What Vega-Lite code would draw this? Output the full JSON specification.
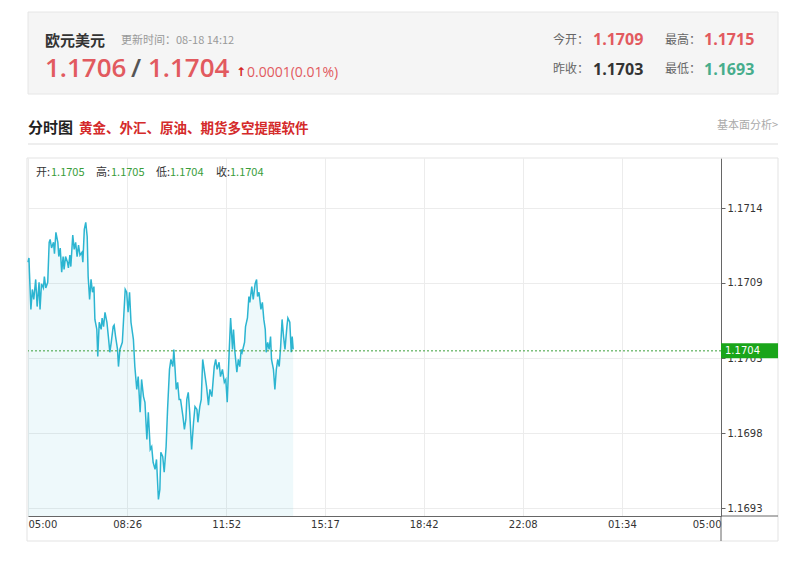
{
  "$schema": "https://vega.github.io/schema/vega-lite/v6.json",
  "width": 693,
  "height": 358,
  "autosize": {"type": "none"},
  "padding": {"left": 28, "top": 158, "right": 79, "bottom": 55},
  "background": "#ffffff",
  "config": {"view": {"stroke": null}, "font": "Noto Sans CJK SC"},
  "data": {
    "format": {"parse": {"t": "utc:'%H:%M'"}},
    "values": [
      {"t":"05:00","p":1.17102},{"t":"05:02","p":1.17105},{"t":"05:03","p":1.17095},{"t":"05:06","p":1.17069},{"t":"05:09","p":1.17083},{"t":"05:12","p":1.17076},{"t":"05:16","p":1.17090},{"t":"05:19","p":1.17071},{"t":"05:23","p":1.17088},{"t":"05:25","p":1.17069},{"t":"05:28","p":1.17087},{"t":"05:32","p":1.17084},{"t":"05:34","p":1.17092},{"t":"05:37","p":1.17084},{"t":"05:41","p":1.17088},{"t":"05:44","p":1.17116},{"t":"05:46","p":1.17118},{"t":"05:49","p":1.17112},{"t":"05:53","p":1.17116},{"t":"05:55","p":1.17108},{"t":"05:58","p":1.17123},
      {"t":"06:02","p":1.17116},{"t":"06:04","p":1.17106},{"t":"06:07","p":1.17112},{"t":"06:10","p":1.17095},{"t":"06:13","p":1.17106},{"t":"06:15","p":1.17097},{"t":"06:18","p":1.17106},{"t":"06:22","p":1.17102},{"t":"06:24","p":1.17098},{"t":"06:27","p":1.17107},{"t":"06:29","p":1.17099},{"t":"06:33","p":1.17121},{"t":"06:36","p":1.17111},{"t":"06:39","p":1.17116},{"t":"06:42","p":1.17106},{"t":"06:45","p":1.17114},{"t":"06:48","p":1.17107},{"t":"06:52","p":1.17109},{"t":"06:54","p":1.17102},{"t":"06:57","p":1.17125},
      {"t":"07:00","p":1.17130},{"t":"07:03","p":1.17120},{"t":"07:05","p":1.17092},{"t":"07:08","p":1.17076},{"t":"07:11","p":1.17090},{"t":"07:14","p":1.17081},{"t":"07:17","p":1.17085},{"t":"07:19","p":1.17062},{"t":"07:23","p":1.17055},{"t":"07:25","p":1.17036},{"t":"07:28","p":1.17060},{"t":"07:32","p":1.17055},{"t":"07:34","p":1.17063},{"t":"07:37","p":1.17057},{"t":"07:40","p":1.17067},{"t":"07:44","p":1.17060},{"t":"07:47","p":1.17050},{"t":"07:50","p":1.17039},{"t":"07:53","p":1.17046},{"t":"07:57","p":1.17057},{"t":"07:59","p":1.17058},
      {"t":"08:02","p":1.17050},{"t":"08:06","p":1.17041},{"t":"08:08","p":1.17029},{"t":"08:11","p":1.17041},{"t":"08:16","p":1.17046},{"t":"08:22","p":1.17083},{"t":"08:25","p":1.17081},{"t":"08:28","p":1.17067},{"t":"08:31","p":1.17081},{"t":"08:34","p":1.17060},{"t":"08:39","p":1.17048},{"t":"08:42","p":1.17029},{"t":"08:46","p":1.17013},{"t":"08:49","p":1.17022},{"t":"08:53","p":1.16997},{"t":"08:56","p":1.17020},
      {"t":"09:00","p":1.17008},{"t":"09:03","p":1.17004},{"t":"09:07","p":1.16978},{"t":"09:10","p":1.16997},{"t":"09:14","p":1.16971},{"t":"09:17","p":1.16973},{"t":"09:20","p":1.16962},{"t":"09:24","p":1.16957},{"t":"09:27","p":1.16964},{"t":"09:31","p":1.16936},{"t":"09:34","p":1.16943},{"t":"09:36","p":1.16969},{"t":"09:40","p":1.16966},{"t":"09:43","p":1.16955},{"t":"09:47","p":1.16973},{"t":"09:50","p":1.16999},{"t":"09:54","p":1.17027},{"t":"09:57","p":1.17034},
      {"t":"10:01","p":1.17029},{"t":"10:03","p":1.17041},{"t":"10:06","p":1.17025},{"t":"10:08","p":1.17013},{"t":"10:11","p":1.17018},{"t":"10:14","p":1.17006},{"t":"10:17","p":1.17006},{"t":"10:22","p":1.16994},{"t":"10:25","p":1.16985},{"t":"10:28","p":1.16992},{"t":"10:30","p":1.17006},{"t":"10:33","p":1.17011},{"t":"10:36","p":1.16997},{"t":"10:40","p":1.16971},{"t":"10:44","p":1.16990},{"t":"10:47","p":1.17001},{"t":"10:51","p":1.16999},{"t":"10:53","p":1.16990},{"t":"10:57","p":1.17001},
      {"t":"11:00","p":1.17006},{"t":"11:03","p":1.17034},{"t":"11:06","p":1.17027},{"t":"11:11","p":1.17015},{"t":"11:15","p":1.17002},{"t":"11:18","p":1.17013},{"t":"11:22","p":1.17008},{"t":"11:27","p":1.17029},{"t":"11:30","p":1.17034},{"t":"11:33","p":1.17027},{"t":"11:37","p":1.17032},{"t":"11:40","p":1.17022},{"t":"11:44","p":1.17027},{"t":"11:48","p":1.17018},{"t":"11:51","p":1.17020},{"t":"11:54","p":1.17004},{"t":"11:58","p":1.17039},
      {"t":"12:01","p":1.17063},{"t":"12:05","p":1.17041},{"t":"12:07","p":1.17055},{"t":"12:10","p":1.17039},{"t":"12:14","p":1.17025},{"t":"12:17","p":1.17034},{"t":"12:20","p":1.17029},{"t":"12:23","p":1.17041},{"t":"12:25","p":1.17039},{"t":"12:30","p":1.17046},{"t":"12:32","p":1.17057},{"t":"12:36","p":1.17063},{"t":"12:39","p":1.17078},{"t":"12:41","p":1.17074},{"t":"12:45","p":1.17085},{"t":"12:48","p":1.17076},{"t":"12:52","p":1.17087},{"t":"12:55","p":1.17090},{"t":"12:57","p":1.17078},
      {"t":"13:00","p":1.17081},{"t":"13:04","p":1.17069},{"t":"13:07","p":1.17074},{"t":"13:10","p":1.17062},{"t":"13:13","p":1.17055},{"t":"13:15","p":1.17039},{"t":"13:18","p":1.17046},{"t":"13:21","p":1.17041},{"t":"13:24","p":1.17050},{"t":"13:26","p":1.17034},{"t":"13:30","p":1.17027},{"t":"13:33","p":1.17013},{"t":"13:36","p":1.17027},{"t":"13:39","p":1.17034},{"t":"13:42","p":1.17029},{"t":"13:45","p":1.17043},{"t":"13:48","p":1.17062},{"t":"13:51","p":1.17050},{"t":"13:54","p":1.17041},{"t":"13:58","p":1.17057},
      {"t":"14:00","p":1.17063},{"t":"14:04","p":1.17060},{"t":"14:07","p":1.17039},{"t":"14:09","p":1.17050},{"t":"14:11","p":1.17041}
    ]
  },
  "layer": [
    {
      "data": {"values": [{}]},
      "mark": {"type": "rect", "fill": "#f5f5f5", "stroke": "#e6e6e6", "strokeWidth": 1},
      "encoding": {"x": {"value": 0}, "x2": {"value": 750}, "y": {"value": -146}, "y2": {"value": -64}}
    },
    {
      "data": {"values": [{}]},
      "mark": {"type": "rect", "fill": "transparent", "stroke": "#e3e3e3", "strokeWidth": 1},
      "encoding": {"x": {"value": -1}, "x2": {"value": 750}, "y": {"value": 0}, "y2": {"value": 383}}
    },
    {
      "data": {"values": [{}]},
      "mark": {"type": "rule", "stroke": "#dddddd", "strokeWidth": 1},
      "encoding": {"x": {"value": 0}, "x2": {"value": 750}, "y": {"value": -14}}
    },
    {
      "mark": {"type": "area", "color": "#2cb5d1", "opacity": 0.08},
      "encoding": {
        "x": {"field": "t", "type": "temporal", "scale": {"type": "utc", "domain": [{"year": 1900, "month": 1, "date": 1, "hours": 5, "minutes": 0, "utc": true}, {"year": 1900, "month": 1, "date": 2, "hours": 5, "minutes": 0, "utc": true}]},
          "axis": {"orient": "bottom", "title": null, "format": "%H:%M", "values": [
            {"year": 1900, "month": 1, "date": 1, "hours": 5, "minutes": 0, "utc": true},
            {"year": 1900, "month": 1, "date": 1, "hours": 8, "minutes": 26, "utc": true},
            {"year": 1900, "month": 1, "date": 1, "hours": 11, "minutes": 52, "utc": true},
            {"year": 1900, "month": 1, "date": 1, "hours": 15, "minutes": 17, "utc": true},
            {"year": 1900, "month": 1, "date": 1, "hours": 18, "minutes": 42, "utc": true},
            {"year": 1900, "month": 1, "date": 1, "hours": 22, "minutes": 8, "utc": true},
            {"year": 1900, "month": 1, "date": 2, "hours": 1, "minutes": 34, "utc": true},
            {"year": 1900, "month": 1, "date": 2, "hours": 5, "minutes": 0, "utc": true}],
            "grid": true, "gridColor": "#ececec", "ticks": false, "domainColor": "#666666", "labelFont": "DejaVu Sans", "labelFontSize": 10, "labelColor": "#333333", "labelPadding": 3, "labelFlush": true}},
        "y": {"field": "p", "type": "quantitative", "scale": {"domain": [1.169244, 1.17175], "zero": false, "nice": false},
          "axis": {"orient": "right", "title": null, "format": ".4f", "values": [1.1693, 1.169824, 1.170349, 1.170876, 1.1714],
            "grid": true, "gridColor": "#ececec", "tickColor": "#666666", "tickSize": 4, "domainColor": "#666666", "labelFont": "DejaVu Sans", "labelFontSize": 10, "labelColor": "#333333", "labelPadding": 2}},
        "y2": {"datum": 1.169244}
      }
    },
    {
      "mark": {"type": "line", "color": "#2cb5d1", "strokeWidth": 1.5},
      "encoding": {
        "x": {"field": "t", "type": "temporal"},
        "y": {"field": "p", "type": "quantitative"}
      }
    },
    {
      "data": {"values": [{}]},
      "mark": {"type": "rule", "color": "#3aa03a", "strokeDash": [2, 2], "strokeWidth": 1},
      "encoding": {"y": {"datum": 1.1704}}
    },
    {
      "data": {"values": [{}]},
      "mark": {"type": "rect", "fill": "#1aa51a"},
      "encoding": {"x": {"value": 693}, "x2": {"value": 750}, "y": {"datum": 1.1704525}, "y2": {"datum": 1.1703475}}
    },
    {
      "data": {"values": [{"s": "1.1704"}]},
      "mark": {"type": "text", "align": "left", "baseline": "middle", "font": "DejaVu Sans", "fontSize": 10, "color": "#ffffff"},
      "encoding": {"text": {"field": "s"}, "x": {"value": 697}, "y": {"datum": 1.1704}}
    },
    {
      "data": {"values": [{}]},
      "mark": {"type": "rule", "color": "#666666", "strokeWidth": 1},
      "encoding": {"x": {"value": 693}, "y": {"value": 358}, "y2": {"value": 383}}
    },
    {
      "data": {"values": [{}]},
      "mark": {"type": "rule", "color": "#666666", "strokeWidth": 1},
      "encoding": {"x": {"value": 693}, "x2": {"value": 750}, "y": {"value": 358}}
    },
    {"data": {"values": [{"s": "开:"}]}, "mark": {"type": "text", "align": "left", "baseline": "alphabetic", "fontSize": 11, "color": "#333333"}, "encoding": {"text": {"field": "s"}, "x": {"value": 8}, "y": {"value": 18}}},
    {"data": {"values": [{"s": "1.1705"}]}, "mark": {"type": "text", "align": "left", "baseline": "alphabetic", "fontSize": 11, "color": "#3a9d3a"}, "encoding": {"text": {"field": "s"}, "x": {"value": 23}, "y": {"value": 18}}},
    {"data": {"values": [{"s": "高:"}]}, "mark": {"type": "text", "align": "left", "baseline": "alphabetic", "fontSize": 11, "color": "#333333"}, "encoding": {"text": {"field": "s"}, "x": {"value": 68}, "y": {"value": 18}}},
    {"data": {"values": [{"s": "1.1705"}]}, "mark": {"type": "text", "align": "left", "baseline": "alphabetic", "fontSize": 11, "color": "#3a9d3a"}, "encoding": {"text": {"field": "s"}, "x": {"value": 83}, "y": {"value": 18}}},
    {"data": {"values": [{"s": "低:"}]}, "mark": {"type": "text", "align": "left", "baseline": "alphabetic", "fontSize": 11, "color": "#333333"}, "encoding": {"text": {"field": "s"}, "x": {"value": 128}, "y": {"value": 18}}},
    {"data": {"values": [{"s": "1.1704"}]}, "mark": {"type": "text", "align": "left", "baseline": "alphabetic", "fontSize": 11, "color": "#3a9d3a"}, "encoding": {"text": {"field": "s"}, "x": {"value": 142}, "y": {"value": 18}}},
    {"data": {"values": [{"s": "收:"}]}, "mark": {"type": "text", "align": "left", "baseline": "alphabetic", "fontSize": 11, "color": "#333333"}, "encoding": {"text": {"field": "s"}, "x": {"value": 188}, "y": {"value": 18}}},
    {"data": {"values": [{"s": "1.1704"}]}, "mark": {"type": "text", "align": "left", "baseline": "alphabetic", "fontSize": 11, "color": "#3a9d3a"}, "encoding": {"text": {"field": "s"}, "x": {"value": 202}, "y": {"value": 18}}},
    {"data": {"values": [{"s": "欧元美元"}]}, "mark": {"type": "text", "align": "left", "baseline": "alphabetic", "fontSize": 15, "fontWeight": "bold", "color": "#333333"}, "encoding": {"text": {"field": "s"}, "x": {"value": 17}, "y": {"value": -112}}},
    {"data": {"values": [{"s": "更新时间：08-18 14:12"}]}, "mark": {"type": "text", "align": "left", "baseline": "alphabetic", "fontSize": 11, "color": "#999999"}, "encoding": {"text": {"field": "s"}, "x": {"value": 93}, "y": {"value": -114}}},
    {"data": {"values": [{"s": "1.1706"}]}, "mark": {"type": "text", "align": "left", "baseline": "alphabetic", "font": "Open Sans", "fontSize": 26, "fontWeight": 600, "color": "#e25a5f"}, "encoding": {"text": {"field": "s"}, "x": {"value": 17}, "y": {"value": -81}}},
    {"data": {"values": [{"s": "/"}]}, "mark": {"type": "text", "align": "left", "baseline": "alphabetic", "font": "Open Sans", "fontSize": 26, "fontWeight": 600, "color": "#555555"}, "encoding": {"text": {"field": "s"}, "x": {"value": 103}, "y": {"value": -81}}},
    {"data": {"values": [{"s": "1.1704"}]}, "mark": {"type": "text", "align": "left", "baseline": "alphabetic", "font": "Open Sans", "fontSize": 26, "fontWeight": 600, "color": "#e25a5f"}, "encoding": {"text": {"field": "s"}, "x": {"value": 120}, "y": {"value": -81}}},
    {"data": {"values": [{"s": "↑"}]}, "mark": {"type": "text", "align": "left", "baseline": "alphabetic", "font": "DejaVu Sans", "fontSize": 12, "fontWeight": "bold", "color": "#d42020"}, "encoding": {"text": {"field": "s"}, "x": {"value": 208}, "y": {"value": -82}}},
    {"data": {"values": [{"s": "0.0001(0.01%)"}]}, "mark": {"type": "text", "align": "left", "baseline": "alphabetic", "font": "Open Sans", "fontSize": 14, "color": "#e25a5f"}, "encoding": {"text": {"field": "s"}, "x": {"value": 219}, "y": {"value": -81}}},
    {"data": {"values": [{"s": "今开："}]}, "mark": {"type": "text", "align": "left", "baseline": "alphabetic", "fontSize": 12, "color": "#666666"}, "encoding": {"text": {"field": "s"}, "x": {"value": 525}, "y": {"value": -114}}},
    {"data": {"values": [{"s": "1.1709"}]}, "mark": {"type": "text", "align": "left", "baseline": "alphabetic", "font": "Open Sans", "fontSize": 16, "fontWeight": "bold", "color": "#e25a5f"}, "encoding": {"text": {"field": "s"}, "x": {"value": 565}, "y": {"value": -113}}},
    {"data": {"values": [{"s": "最高："}]}, "mark": {"type": "text", "align": "left", "baseline": "alphabetic", "fontSize": 12, "color": "#666666"}, "encoding": {"text": {"field": "s"}, "x": {"value": 637}, "y": {"value": -114}}},
    {"data": {"values": [{"s": "1.1715"}]}, "mark": {"type": "text", "align": "left", "baseline": "alphabetic", "font": "Open Sans", "fontSize": 16, "fontWeight": "bold", "color": "#e25a5f"}, "encoding": {"text": {"field": "s"}, "x": {"value": 676}, "y": {"value": -113}}},
    {"data": {"values": [{"s": "昨收："}]}, "mark": {"type": "text", "align": "left", "baseline": "alphabetic", "fontSize": 12, "color": "#666666"}, "encoding": {"text": {"field": "s"}, "x": {"value": 525}, "y": {"value": -85}}},
    {"data": {"values": [{"s": "1.1703"}]}, "mark": {"type": "text", "align": "left", "baseline": "alphabetic", "font": "Open Sans", "fontSize": 16, "fontWeight": "bold", "color": "#333333"}, "encoding": {"text": {"field": "s"}, "x": {"value": 565}, "y": {"value": -83}}},
    {"data": {"values": [{"s": "最低："}]}, "mark": {"type": "text", "align": "left", "baseline": "alphabetic", "fontSize": 12, "color": "#666666"}, "encoding": {"text": {"field": "s"}, "x": {"value": 637}, "y": {"value": -85}}},
    {"data": {"values": [{"s": "1.1693"}]}, "mark": {"type": "text", "align": "left", "baseline": "alphabetic", "font": "Open Sans", "fontSize": 16, "fontWeight": "bold", "color": "#47ad8c"}, "encoding": {"text": {"field": "s"}, "x": {"value": 676}, "y": {"value": -83}}},
    {"data": {"values": [{"s": "分时图"}]}, "mark": {"type": "text", "align": "left", "baseline": "alphabetic", "fontSize": 15, "fontWeight": "bold", "color": "#222222"}, "encoding": {"text": {"field": "s"}, "x": {"value": 0}, "y": {"value": -25}}},
    {"data": {"values": [{"s": "黄金、外汇、原油、期货多空提醒软件"}]}, "mark": {"type": "text", "align": "left", "baseline": "alphabetic", "fontSize": 13.5, "fontWeight": "bold", "color": "#d42a2a"}, "encoding": {"text": {"field": "s"}, "x": {"value": 51}, "y": {"value": -25}}},
    {"data": {"values": [{"s": "基本面分析>"}]}, "mark": {"type": "text", "align": "right", "baseline": "alphabetic", "fontSize": 11, "color": "#aaaaaa"}, "encoding": {"text": {"field": "s"}, "x": {"value": 750}, "y": {"value": -29}}}
  ]
}
